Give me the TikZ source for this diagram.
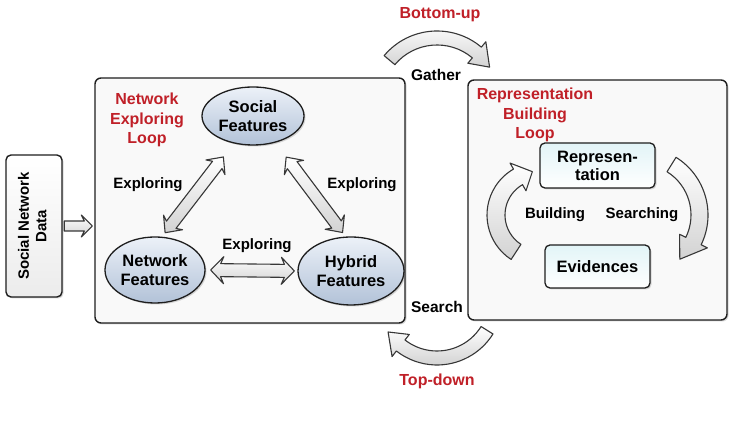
\documentclass[tikz,border=0pt]{standalone}
\usepackage{fontspec}
\setmainfont{Liberation Sans}
\usepackage{graphicx}
\usetikzlibrary{shapes.geometric,shadows,calc}
\definecolor{lred}{RGB}{192,32,40}
\definecolor{featTop}{RGB}{236,241,248}
\definecolor{featBot}{RGB}{178,194,216}
\definecolor{repTop}{RGB}{226,244,247}
\definecolor{edge}{RGB}{30,30,30}
\definecolor{arrEdge}{RGB}{55,55,55}
% curved band arrow: center, start angle, head base angle, tip angle, inner r, outer r, head extend
\newcommand{\cvarrow}[7]{%
  \pgfmathsetmacro\cvmid{(#5+#6)/2}%
  \pgfmathsetmacro\cvout{#6+#7}%
  \pgfmathsetmacro\cvin{#5-#7}%
  \path[hollow, shift={(#1)}] (#2:#6pt) arc[start angle=#2, end angle=#3, radius=#6pt]
    -- (#3:\cvout pt) -- (#4:\cvmid pt) -- (#3:\cvin pt) -- (#3:#5pt)
    arc[start angle=#3, end angle=#2, radius=#5pt] -- cycle;}
% hollow double arrow between two tip coordinates: #3 shaft half, #4 head half
\newcommand{\dbarrow}[4]{%
  \coordinate (#1h) at ($(#1)!13pt!(#2)$);
  \coordinate (#1i) at ($(#1)!10pt!(#2)$);
  \coordinate (#2h) at ($(#2)!13pt!(#1)$);
  \coordinate (#2i) at ($(#2)!10pt!(#1)$);
  \path[hollow] (#1) -- ($(#1h)!#4!90:(#2)$) -- ($(#1i)!#3!90:(#2)$) -- ($(#2i)!#3!-90:(#1)$)
    -- ($(#2h)!#4!-90:(#1)$) -- (#2) -- ($(#2h)!#4!90:(#1)$) -- ($(#2i)!#3!90:(#1)$)
    -- ($(#1i)!#3!-90:(#2)$) -- ($(#1h)!#4!-90:(#2)$) -- cycle;}
% hollow single arrow from tail #1 to tip #2
\newcommand{\sgarrow}[2]{%
  \coordinate (#2h) at ($(#2)!11pt!(#1)$);
  \coordinate (#2i) at ($(#2)!8pt!(#1)$);
  \path[hollow] ($(#1)!5pt!90:(#2)$) -- ($(#2i)!5pt!-90:(#1)$) -- ($(#2h)!11pt!-90:(#1)$) -- (#2)
    -- ($(#2h)!11pt!90:(#1)$) -- ($(#2i)!5pt!90:(#1)$) -- ($(#1)!5pt!-90:(#2)$) -- cycle;}
\tikzset{
  shad/.style={drop shadow={opacity=0.3, shadow xshift=1.5pt, shadow yshift=-1.5pt}},
  bigbox/.style={draw=edge, line width=1.4pt, rounded corners=6pt, fill=gray!5, shad},
  feat/.style={ellipse, draw=edge, line width=1.3pt, top color=featTop, bottom color=featBot,
    font=\bfseries\fontsize{16.5}{19}\selectfont, align=center, inner sep=0pt, shad},
  repbox/.style={rectangle, draw=edge, line width=1.3pt, rounded corners=5pt, top color=repTop,
    bottom color=white, font=\bfseries\fontsize{16.5}{18}\selectfont, align=center, shad},
  lbl/.style={font=\bfseries\fontsize{15}{17}\selectfont},
  lblb/.style={font=\bfseries\fontsize{15.5}{18}\selectfont},
  redlbl/.style={font=\bfseries\fontsize{16}{19.5}\selectfont, text=lred, align=center},
  hollow/.style={draw=arrEdge, line width=1.1pt, line join=round, top color=white, bottom color=gray!35}
}
\begin{document}
\begin{tikzpicture}[x=1pt,y=1pt]
\useasboundingbox (0,0) rectangle (737,425);
\fill[white] (0,0) rectangle (737,425);

% big boxes
\node[bigbox, minimum width=310pt, minimum height=245pt] (nel) at (250,224.5) {};
\node[bigbox, minimum width=259pt, minimum height=240pt] (rbl) at (597.5,225) {};

% social network data
\node[rectangle, draw=edge, line width=1.4pt, rounded corners=5pt, top color=white, bottom color=gray!15,
  minimum width=56pt, minimum height=142pt, inner sep=0pt, font=\bfseries\fontsize{15}{17.5}\selectfont, shad]
  (snd) at (34,199) {\rotatebox{90}{\begin{tabular}{@{}c@{}}Social Network\\Data\end{tabular}}};
\coordinate (s0) at ($(snd.east)+(1.5,0)$);
\coordinate (s1) at ($(snd.east -| nel.west)+(-2,0)$);
\sgarrow{s0}{s1}

% feature ellipses
\node[feat, minimum width=102pt, minimum height=58pt] (sf) at (253,309) {Social\\Features};
\node[feat, minimum width=100pt, minimum height=66pt] (nf) at (155,155) {Network\\Features};
\node[feat, minimum width=106pt, minimum height=68pt] (hf) at (351,154) {Hybrid\\Features};

% exploring arrows
\coordinate (t1) at ($(nf.78)!5pt!(sf.235)$);
\coordinate (t2) at ($(sf.235)!17pt!(nf.78)$);
\coordinate (t3) at ($(sf.-50)!18pt!(hf.99)$);
\coordinate (t4) at ($(hf.99)!5pt!(sf.-50)$);
\coordinate (t5) at ($(nf.east)!5pt!(hf.west)$);
\coordinate (t6) at ($(hf.west)!3pt!(nf.east)$);
\dbarrow{t1}{t2}{6pt}{12pt}
\dbarrow{t3}{t4}{6pt}{12pt}
\dbarrow{t5}{t6}{6.5pt}{13.5pt}

\node[redlbl] (nelt) at (147,305) {Network\\Exploring\\Loop};
\node[lbl] (e1) at (148,240) {Exploring};
\node[lbl] (e2) at (362,240) {Exploring};
\node[lbl] (e3) at (257,179) {Exploring};

% representation building loop
\node[redlbl] (rblt) at (535,310) {Representation\\Building\\Loop};
\node[repbox, minimum width=115pt, minimum height=45pt] (rep) at (597.5,259.5) {Represen-\\tation};
\node[repbox, minimum width=105pt, minimum height=43pt] (ev) at (597.5,158.5) {Evidences};
\node[lbl] (bld) at (555,210) {Building};
\node[lbl] (srch) at (642,210) {Searching};

% curved arrows
\coordinate (cg) at (437,325);
\coordinate (cs) at (437,126);
\coordinate (cb) at (540,210);
\coordinate (cr) at (640,210);
\cvarrow{cg}{140}{50}{32}{55}{69}{7}
\cvarrow{cs}{328}{232}{214}{52}{66}{7}
\cvarrow{cb}{237}{120}{100}{35}{53}{7}
\cvarrow{cr}{58}{-26}{-48}{51}{68}{7}

\node[lblb] (gat) at (436,350) {Gather};
\node[redlbl] (bu) at (440,410) {Bottom-up};
\node[lblb] (sea) at (437,118) {Search};
\node[redlbl] (td) at (437,44) {Top-down};
\end{tikzpicture}
\end{document}
